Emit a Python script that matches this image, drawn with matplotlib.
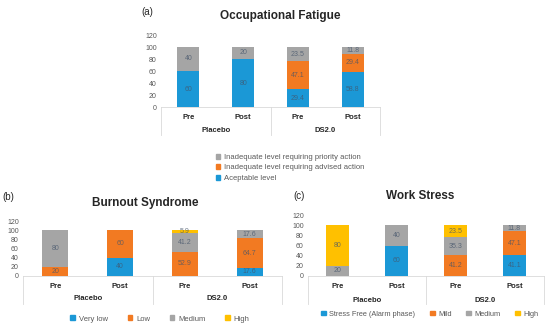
import numpy as np
import matplotlib
matplotlib.use('Agg')
import matplotlib.pyplot as plt
from matplotlib.patches import Patch
from matplotlib.transforms import ScaledTranslation

plt.rcParams['font.family'] = ['Liberation Sans', 'DejaVu Sans']

periods = ['Pre', 'Post', 'Pre', 'Post']
groups = ['Placebo', 'DS2.0']
yticks = [0, 20, 40, 60, 80, 100, 120]

# (a) occupational fatigue
fat_names = ['Aceptable level', 'Inadequate level requiring advised action',
             'Inadequate level requiring priority action']
fat_acceptable = [60, 80, 29.4, 58.8]
fat_advised = [0, 0, 47.1, 29.4]
fat_priority = [40, 20, 23.5, 11.8]

# (b) burnout syndrome
burn_names = ['Very low', 'Low', 'Medium', 'High']
burn_verylow = [0, 40, 0, 17.6]
burn_low = [20, 60, 52.9, 64.7]
burn_medium = [80, 0, 41.2, 17.6]
burn_high = [0, 0, 5.9, 0]

# (c) work stress
stress_names = ['Stress Free (Alarm phase)', 'Mild', 'Medium', 'High']
stress_free = [0, 60, 0, 41.1]
stress_mild = [0, 0, 41.2, 47.1]
stress_medium = [20, 40, 35.3, 11.8]
stress_high = [80, 0, 23.5, 0]

c_blue = '#1B98D6'
c_orange = '#F27A22'
c_gray = '#A5A5A5'
c_yellow = '#FFC000'
line_c = '#D9D9D9'
txt_c = '#595959'

W, H = 550, 329
fig = plt.figure(figsize=(W / 100, H / 100), dpi=100)


def px_axes(left, right, top, bottom):
    return fig.add_axes([left / W, 1 - bottom / H, (right - left) / W, (bottom - top) / H])


def panel(ax, series, colors, title, letter, title_xy, letter_xy, row1, row2, row_end):
    x = np.arange(4)
    base = np.zeros(4)
    for vals, col in zip(series, colors):
        vals = np.array(vals)
        ax.bar(x, vals, 0.4, bottom=base, color=col, edgecolor='none')
        for xi, b, v in zip(x, base, vals):
            if v > 0:
                ax.text(xi, b + v / 2, f'{v:g}', ha='center', va='center',
                        fontsize=5, color='#44546A', alpha=0.75)
        base = base + vals
    ax.set_xlim(-0.5, 3.5)
    ax.set_ylim(0, 120)
    ax.set_yticks(yticks)
    ax.tick_params(axis='y', length=0, labelsize=5, colors=txt_c, pad=3)
    ax.set_xticks([])
    for s in ['left', 'right', 'top', 'bottom']:
        ax.spines[s].set_visible(False)
    ax.axhline(0, color=line_c, lw=0.6, clip_on=False)

    # multi-level category frame: vertical separators below the axis
    for xv in [-0.5, 1.5, 3.5]:
        p0 = ax.transData.transform((xv, 0))
        fig.add_artist(plt.Line2D([p0[0] / W, p0[0] / W],
                                  [p0[1] / H, (p0[1] - row_end) / H],
                                  color=line_c, lw=0.6))
    tr = ax.get_xaxis_transform()
    for xi, lab in zip(x, periods):
        ax.text(xi, 0, lab, transform=tr + ScaledTranslation(0, -row1 / 100, fig.dpi_scale_trans),
                ha='center', va='center', fontsize=5.5, fontweight='bold', color='#262626')
    for xi, lab in zip([0.5, 2.5], groups):
        ax.text(xi, 0, lab, transform=tr + ScaledTranslation(0, -row2 / 100, fig.dpi_scale_trans),
                ha='center', va='center', fontsize=5.5, fontweight='bold', color='#262626')
    fig.text(title_xy[0] / W, 1 - title_xy[1] / H, title, ha='center', va='center',
             fontsize=8.5, fontweight='bold', color='#262626')
    fig.text(letter_xy[0] / W, 1 - letter_xy[1] / H, letter, ha='left', va='center',
             fontsize=7, color='#262626')


ax1 = px_axes(161, 380, 35, 107)
panel(ax1, [fat_acceptable, fat_advised, fat_priority], [c_blue, c_orange, c_gray],
      'Occupational Fatigue', '(a)', (280, 16), (141, 12), 10, 23, 28)
h1 = [Patch(color=c, label=n) for c, n in zip([c_gray, c_orange, c_blue], fat_names[::-1])]
fig.legend(handles=h1, loc='upper left', bbox_to_anchor=(212 / W, 1 - 150 / H), frameon=False,
           fontsize=5.5, handlelength=0.6, handleheight=0.6, handletextpad=0.5,
           labelspacing=0.45, labelcolor=txt_c, borderpad=0)

ax2 = px_axes(23, 282, 221, 276)
panel(ax2, [burn_verylow, burn_low, burn_medium, burn_high], [c_blue, c_orange, c_gray, c_yellow],
      'Burnout Syndrome', '(b)', (145, 203), (2, 197), 10, 23, 28)
h2 = [Patch(color=c, label=n) for c, n in zip([c_blue, c_orange, c_gray, c_yellow], burn_names)]
fig.legend(handles=h2, loc='center', bbox_to_anchor=(160 / W, 1 - 319 / H), frameon=False, ncol=4,
           fontsize=5.5, handlelength=0.6, handleheight=0.6, handletextpad=0.5,
           columnspacing=2.6, labelcolor=txt_c, borderpad=0)

ax3 = px_axes(308, 544, 215, 276)
panel(ax3, [stress_free, stress_mild, stress_medium, stress_high], [c_blue, c_orange, c_gray, c_yellow],
      'Work Stress', '(c)', (420, 196), (293, 196), 10, 24, 28)
h3 = [Patch(color=c, label=n) for c, n in zip([c_blue, c_orange, c_gray, c_yellow], stress_names)]
fig.legend(handles=h3, loc='center', bbox_to_anchor=(430 / W, 1 - 314 / H), frameon=False, ncol=4,
           fontsize=5.3, handlelength=0.6, handleheight=0.6, handletextpad=0.5,
           columnspacing=2.0, labelcolor=txt_c, borderpad=0)

fig.savefig('out.png', dpi=100)
